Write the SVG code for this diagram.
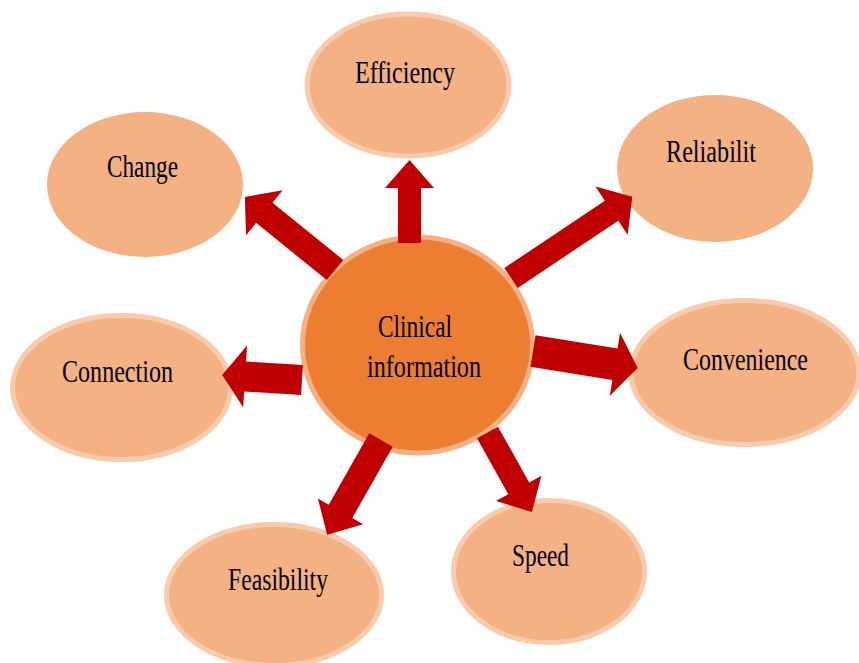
<svg xmlns="http://www.w3.org/2000/svg" width="859" height="663" viewBox="0 0 859 663">
<style>
.leaf{fill:#f4b183}
.rim{stroke:#f8cbad;stroke-width:5}
.lbl{font-family:"Liberation Serif","Times New Roman",serif;font-size:32px;fill:#000;text-anchor:middle}
.arr{fill:#c00000}
</style>
<rect width="859" height="663" fill="#fff"/>
<g id="node-efficiency"><ellipse class="leaf rim" cx="408" cy="85" rx="101" ry="71"/><text class="lbl" x="405" y="83" textLength="100" lengthAdjust="spacingAndGlyphs">Efficiency</text></g>
<g id="node-change"><ellipse class="leaf" cx="145" cy="184.5" rx="98" ry="72.5"/><text class="lbl" x="142.5" y="177" textLength="71" lengthAdjust="spacingAndGlyphs">Change</text></g>
<g id="node-reliabilit"><ellipse class="leaf" cx="715" cy="168.5" rx="98" ry="73.5"/><text class="lbl" x="711" y="162" textLength="90" lengthAdjust="spacingAndGlyphs">Reliabilit</text></g>
<g id="node-connection"><ellipse class="leaf rim" cx="121.5" cy="387.5" rx="109" ry="72"/><text class="lbl" x="117.5" y="382" textLength="111" lengthAdjust="spacingAndGlyphs">Connection</text></g>
<g id="node-convenience"><ellipse class="leaf rim" cx="745" cy="372.5" rx="114" ry="72"/><text class="lbl" x="745.5" y="370" textLength="125" lengthAdjust="spacingAndGlyphs">Convenience</text></g>
<g id="node-feasibility"><ellipse class="leaf rim" cx="274" cy="595" rx="107.5" ry="70.5"/><text class="lbl" x="278" y="590" textLength="100" lengthAdjust="spacingAndGlyphs">Feasibility</text></g>
<g id="node-speed"><ellipse class="leaf rim" cx="549" cy="571.5" rx="95.5" ry="71"/><text class="lbl" x="540.5" y="566" textLength="57" lengthAdjust="spacingAndGlyphs">Speed</text></g>
<g id="node-center"><ellipse cx="417.5" cy="345" rx="115" ry="108" fill="#ed7d31" stroke="#f4b183" stroke-width="5"/><text class="lbl" x="415" y="337" textLength="74" lengthAdjust="spacingAndGlyphs">Clinical</text><text class="lbl" x="424" y="377" textLength="114" lengthAdjust="spacingAndGlyphs">information</text></g>
<g id="connectors">
<polygon class="arr" transform="translate(409.5,243) rotate(-90)" points="0,-11.5 55,-11.5 55,-24.5 83,0 55,24.5 55,11.5 0,11.5"/>
<polygon class="arr" transform="translate(511,278) rotate(-33.8)" points="0,-12 121,-12 121,-29 146,0 121,29 121,12 0,12"/>
<polygon class="arr" transform="translate(335,270) rotate(-141)" points="0,-13 91,-13 91,-29 116,0 91,29 91,13 0,13"/>
<polygon class="arr" transform="translate(302,380) rotate(183.6)" points="0,-15 57,-15 57,-31 80,0 57,31 57,15 0,15"/>
<polygon class="arr" transform="translate(533,351) rotate(9.2)" points="0,-16 83,-16 83,-32 106,0 83,32 83,16 0,16"/>
<polygon class="arr" transform="translate(487.5,432.5) rotate(60.8)" points="0,-12 64,-12 64,-26 91,0 64,26 64,12 0,12"/>
<polygon class="arr" transform="translate(381,440) rotate(119.6)" points="0,-13.5 82,-13.5 82,-26 109,0 82,26 82,13.5 0,13.5"/>
</g>
</svg>
